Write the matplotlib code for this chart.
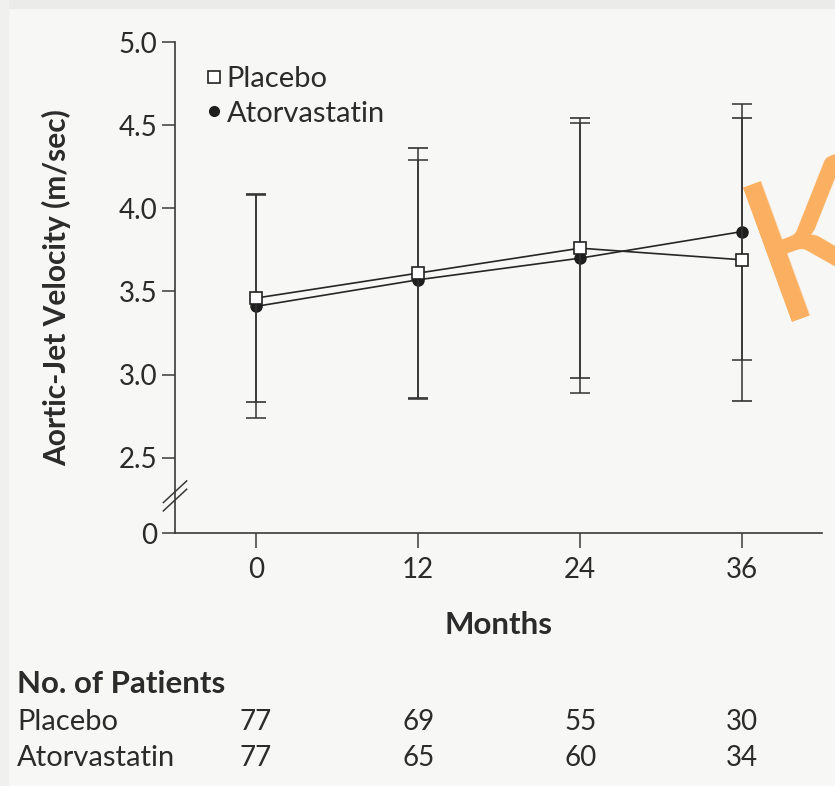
import matplotlib
matplotlib.use("Agg")
import matplotlib.pyplot as plt
from matplotlib.lines import Line2D
import matplotlib.transforms as mtransforms

plt.rcParams['font.family'] = ['Lato', 'DejaVu Sans']

# mean aortic-jet velocity (m/sec) with SD, by month of follow-up
months = [0, 12, 24, 36]
placebo_mean = [3.46, 3.61, 3.76, 3.69]
placebo_sd = [0.625, 0.75, 0.78, 0.85]
atorva_mean = [3.41, 3.57, 3.70, 3.86]
atorva_sd = [0.67, 0.72, 0.81, 0.77]

patients_placebo = [77, 69, 55, 30]
patients_atorva = [77, 65, 60, 34]

yticks = [2.5, 3.0, 3.5, 4.0, 4.5, 5.0]
y_floor = 2.047   # where the broken axis shows "0"

ink = '#2b2b2b'
bg = '#f7f7f5'

fig = plt.figure(figsize=(8.35, 7.86), dpi=100, facecolor=bg)

# page edges around the panel
fig.patches.append(plt.Rectangle((0, 1 - 8 / 786), 1, 8 / 786, transform=fig.transFigure,
                                 color='#ebebea', zorder=0))
fig.patches.append(plt.Rectangle((0, 0), 8 / 835, 1, transform=fig.transFigure,
                                 color='#f0f0ef', zorder=0))

ax = fig.add_axes([175 / 835, 1 - 533 / 786, 647 / 835, 491 / 786])
ax.set_facecolor('none')

ax.errorbar(months, atorva_mean, yerr=atorva_sd, fmt='o', color='#262626', ms=8,
            mfc='#1e1e1e', mec='#1e1e1e', ecolor='#333333', elinewidth=1.1,
            capsize=7.5, capthick=1.1, lw=1.2, linestyle='-', zorder=3)
ax.errorbar(months, placebo_mean, yerr=placebo_sd, fmt='s', color='#262626', ms=9,
            mfc='white', mec='#222222', mew=1.2, ecolor='#333333', elinewidth=1.1,
            capsize=7.5, capthick=1.1, lw=1.2, linestyle='-', zorder=4)

ax.set_xlim(-6, 41.9)
ax.set_ylim(y_floor, 5.0)
ax.set_xticks(months)
ax.set_xticklabels([str(m) for m in months])
ax.set_yticks([y_floor] + yticks)
ax.set_yticklabels(['0'] + ['%.1f' % t for t in yticks])

for s in ['top', 'right']:
    ax.spines[s].set_visible(False)
for s in ['left', 'bottom']:
    ax.spines[s].set_color('#3a3a3a')
    ax.spines[s].set_linewidth(1.2)

ax.tick_params(axis='y', length=9.5, width=1.1, color='#3a3a3a', pad=3,
               labelsize=20, labelcolor=ink)
ax.tick_params(axis='x', length=11, width=1.1, color='#3a3a3a', pad=6.5,
               labelsize=20, labelcolor=ink)

# axis break marks
brk = mtransforms.blended_transform_factory(ax.transAxes, ax.transData)
for dy in (0.0, -0.05):
    ax.plot([-0.018, 0.018], [2.23 + dy, 2.36 + dy], color='#3a3a3a', lw=1.1,
            transform=brk, clip_on=False, zorder=5)

fig.text(57 / 835, 1 - 288 / 786, 'Aortic-Jet Velocity (m/sec)', rotation=90,
         ha='center', va='center', fontsize=21.5, fontweight='bold', color=ink)
ax.set_xlabel('Months', fontsize=22.5, fontweight='bold', color=ink, labelpad=20)

handles = [
    Line2D([], [], marker='s', ls='none', ms=8, mfc='white', mec='#222222', mew=1.2),
    Line2D([], [], marker='o', ls='none', ms=7, mfc='#1e1e1e', mec='#1e1e1e'),
]
ax.legend(handles, ['Placebo', 'Atorvastatin'], loc='upper left',
          bbox_to_anchor=(0.028, 0.975), frameon=False, fontsize=21,
          handlelength=0.6, handletextpad=0.15, labelspacing=0.3,
          borderaxespad=0, labelcolor=ink)

# number-at-risk table under the axis
fig.text(17 / 835, 1 - 684 / 786, 'No. of Patients', ha='left', va='center',
         fontsize=22.5, fontweight='bold', color=ink)
row_tf = mtransforms.blended_transform_factory(ax.transData, fig.transFigure)
for label, counts, ypix in [('Placebo', patients_placebo, 722),
                            ('Atorvastatin', patients_atorva, 758)]:
    fig.text(17 / 835, 1 - ypix / 786, label, ha='left', va='center',
             fontsize=21, color=ink)
    for m, n in zip(months, counts):
        ax.text(m, 1 - ypix / 786, str(n), transform=row_tf, ha='center',
                va='center', fontsize=20, color=ink, clip_on=False)

# orange corner mark
fig.text(816 / 835, 1 - 246 / 786, 'K', rotation=20, ha='center', va='center',
         fontsize=143, color='#fcaf60', zorder=10)

fig.savefig('out.png', dpi=100, facecolor=bg)
